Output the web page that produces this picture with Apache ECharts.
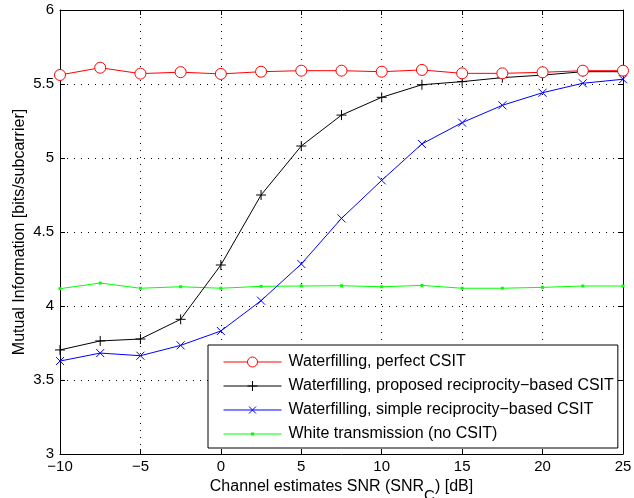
<!DOCTYPE html>
<html>
<head>
<meta charset="utf-8">
<script src="https://cdn.jsdelivr.net/npm/echarts@6/dist/echarts.min.js"></script>
<style>html,body{margin:0;padding:0;background:#fff}#c{width:634px;height:498px}</style>
</head>
<body>
<div id="c"></div>
<script>
const snr = [-10, -7.5, -5, -2.5, 0, 2.5, 5, 7.5, 10, 12.5, 15, 17.5, 20, 22.5, 25];
const perfect = [5.561, 5.61, 5.57, 5.58, 5.568, 5.583, 5.59, 5.59, 5.583, 5.595, 5.572, 5.572, 5.579, 5.59, 5.59];
const proposed = [3.703, 3.764, 3.777, 3.91, 4.277, 4.75, 5.081, 5.29, 5.41, 5.495, 5.516, 5.543, 5.56, 5.583, 5.583];
const simple = [3.628, 3.682, 3.664, 3.734, 3.831, 4.036, 4.284, 4.592, 4.849, 5.095, 5.239, 5.356, 5.441, 5.505, 5.532];
const white = [4.117, 4.155, 4.12, 4.13, 4.12, 4.133, 4.135, 4.137, 4.13, 4.139, 4.12, 4.12, 4.126, 4.135, 4.135];
const names = [
  'Waterfilling, perfect CSIT',
  'Waterfilling, proposed reciprocity\u2212based CSIT',
  'Waterfilling, simple reciprocity\u2212based CSIT',
  'White transmission (no CSIT)'
];
const xTicks = [-10, -5, 0, 5, 10, 15, 20, 25];
const yTicks = [3, 3.5, 4, 4.5, 5, 5.5, 6];

const FONT = 'Liberation Sans, Arial, Helvetica, sans-serif';
const pair = (ys) => snr.map((x, i) => [x, ys[i]]);
const fmt = (v) => String(v).replace('-', '\u2212');

const plusPath = 'path://M0,5L10,5M5,0L5,10';
const crossPath = 'path://M0,0L10,10M0,10L10,0';
// legend icons: line + marker, stroked only
const iconCircle = 'path://M0,8L24,8M34,8L58,8M34,8A5,5 0 1 1 24,8A5,5 0 1 1 34,8Z';
const iconPlus = 'path://M0,8L58,8M29,3L29,13M24,8L34,8';
const iconCross = 'path://M0,8L58,8M25.5,4.5L32.5,11.5M25.5,11.5L32.5,4.5';
const iconDot = 'path://M0,8L58,8M28,7L30,7L30,9L28,9Z';

const chart = echarts.init(document.getElementById('c'), null, {renderer: 'canvas'});
const baseAxis = {
  axisLine: {show: true, onZero: false, lineStyle: {color: '#000', width: 1}},
  axisTick: {show: true, inside: true, length: 5, lineStyle: {color: '#000'}},
  splitLine: {show: false},
  axisLabel: {show: false}
};
const gridLine = {show: true, lineStyle: {color: '#000', type: [1, 6], width: 1}};
chart.setOption({
  animation: false,
  backgroundColor: '#fff',
  grid: {left: 60, top: 10, right: 11, bottom: 44, containLabel: false, outerBoundsMode: 'none'},
  xAxis: [
    Object.assign({}, baseAxis, {
      type: 'value', min: -10, max: 25, interval: 5, position: 'bottom',
      axisLabel: {show: true, color: '#000', fontFamily: FONT, fontSize: 15, margin: 5, formatter: fmt},
      splitLine: gridLine,
      name: 'Channel estimates SNR (SNR{sub|C}) [dB]',
      nameLocation: 'middle', nameGap: 10,
      nameTextStyle: {color: '#000', fontFamily: FONT, fontSize: 16, padding: 0,
        rich: {sub: {fontFamily: FONT, fontSize: 15, color: '#000', padding: [18, 0, 0, 0]}}}
    }),
    Object.assign({}, baseAxis, {type: 'value', min: -10, max: 25, interval: 5, position: 'top'})
  ],
  yAxis: [
    Object.assign({}, baseAxis, {
      type: 'value', min: 3, max: 6, interval: 0.5, position: 'left',
      axisLabel: {show: true, color: '#000', fontFamily: FONT, fontSize: 15, margin: 6},
      splitLine: gridLine,
      name: 'Mutual Information [bits/subcarrier]',
      nameLocation: 'middle', nameGap: 32, nameMoveOverlap: false,
      nameTextStyle: {color: '#000', fontFamily: FONT, fontSize: 16}
    }),
    Object.assign({}, baseAxis, {type: 'value', min: 3, max: 6, interval: 0.5, position: 'right'})
  ],
  legend: {
    orient: 'vertical', left: 208, top: 345,
    padding: [9, 4, 6, 13],
    itemGap: 8, itemWidth: 58, itemHeight: 16, symbolKeepAspect: true,
    backgroundColor: '#fff', borderColor: '#000', borderWidth: 1, borderRadius: 0,
    textStyle: {color: '#000', fontFamily: FONT, fontSize: 16, padding: [0, 0, 0, 2]},
    data: [
      {name: names[0], icon: iconCircle, itemStyle: {color: 'none', borderColor: '#ff0000', borderWidth: 1}},
      {name: names[1], icon: iconPlus, itemStyle: {color: 'none', borderColor: '#000000', borderWidth: 1}},
      {name: names[2], icon: iconCross, itemStyle: {color: 'none', borderColor: '#0000ff', borderWidth: 1}},
      {name: names[3], icon: iconDot, itemStyle: {color: 'none', borderColor: '#00ff00', borderWidth: 1.2}}
    ]
  },
  series: [
    {name: names[0], type: 'line', data: pair(perfect), symbol: 'circle', symbolSize: 11,
      lineStyle: {color: '#ff0000', width: 1}, itemStyle: {color: '#ffffff', borderColor: '#ff0000', borderWidth: 1}, z: 5},
    {name: names[1], type: 'line', data: pair(proposed), symbol: plusPath, symbolSize: 10,
      lineStyle: {color: '#000', width: 1}, itemStyle: {color: 'none', borderColor: '#000', borderWidth: 1}, z: 4},
    {name: names[2], type: 'line', data: pair(simple), symbol: crossPath, symbolSize: 8,
      lineStyle: {color: '#0000ff', width: 1}, itemStyle: {color: 'none', borderColor: '#0000ff', borderWidth: 1}, z: 3},
    {name: names[3], type: 'line', data: pair(white), symbol: 'rect', symbolSize: 3,
      lineStyle: {color: '#00ff00', width: 1}, itemStyle: {color: '#00ff00', borderColor: '#00ff00', borderWidth: 0}, z: 2}
  ]
});
</script>
</body>
</html>
